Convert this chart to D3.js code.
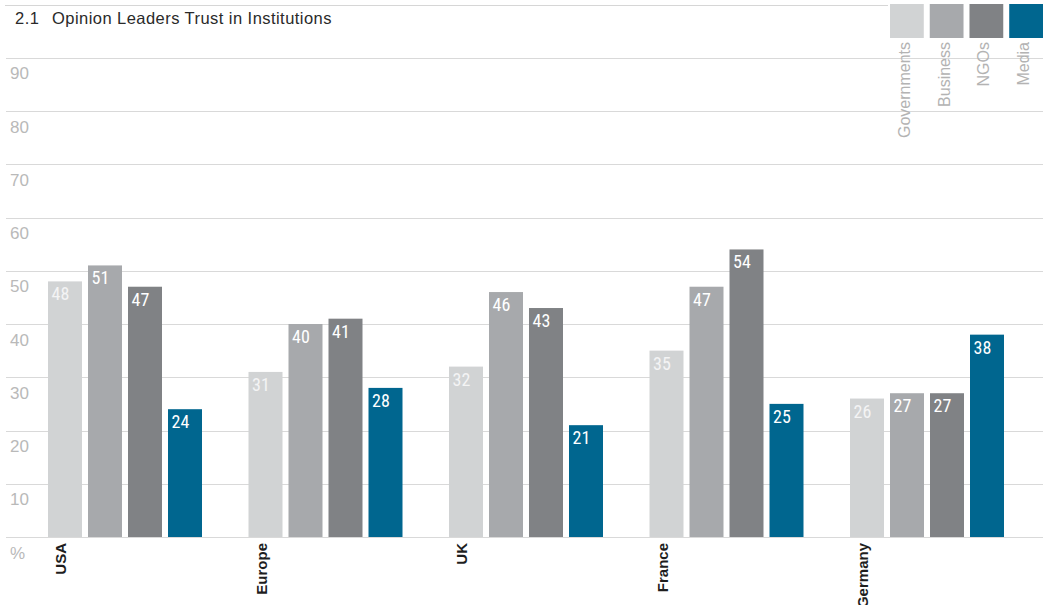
<!DOCTYPE html>
<html>
<head>
<meta charset="utf-8">
<script src="https://cdn.jsdelivr.net/npm/d3@7"></script>
<style>
  html, body { margin: 0; padding: 0; background: #fff; }
  svg { display: block; }
</style>
</head>
<body>
<svg id="chart" width="1043" height="605"></svg>
<script>
const titleNumber = "2.1";
const titleText = "Opinion Leaders Trust in Institutions";
const countries = ["USA", "Europe", "UK", "France", "Germany"];
const seriesNames = ["Governments", "Business", "NGOs", "Media"];
const governments = [48, 31, 32, 35, 26];
const business = [51, 40, 46, 47, 27];
const ngos = [47, 41, 43, 54, 27];
const media = [24, 28, 21, 25, 38];
const yTicks = [10, 20, 30, 40, 50, 60, 70, 80, 90];
const zeroLabel = "%";
const colors = ["#d1d3d4", "#a7a9ac", "#808285", "#00668f"];

const seriesValues = [governments, business, ngos, media];
const W = 1043, H = 605;
const svg = d3.select("#chart");

const y = d3.scaleLinear().domain([0, 100]).range([537, 4.5]);
const x0 = d3.scaleBand().domain(countries).range([48, 48 + 5 * 200.5]).paddingInner(0).paddingOuter(0);
const x1 = d3.scaleBand().domain(seriesNames).range([0, 154]).paddingInner(0.15).paddingOuter(0);
const color = d3.scaleOrdinal().domain(seriesNames).range(colors);

// top rule
svg.append("line")
  .attr("x1", 5).attr("x2", 888)
  .attr("y1", Math.round(y(100)) + 0.5).attr("y2", Math.round(y(100)) + 0.5)
  .attr("stroke", "#d6d6d6").attr("stroke-width", 1.2);

// gridlines and y labels
const gridVals = [0].concat(yTicks);
const g = svg.append("g");
g.selectAll("line.grid").data(gridVals).enter().append("line")
  .attr("class", "grid")
  .attr("x1", 6).attr("x2", W)
  .attr("y1", d => Math.round(y(d)) + 0.5).attr("y2", d => Math.round(y(d)) + 0.5)
  .attr("stroke", "#d9d9d9").attr("stroke-width", 1.2);

g.selectAll("text.ytick").data(gridVals).enter().append("text")
  .attr("class", "ytick")
  .attr("x", 10)
  .attr("y", d => y(d) + 21.5)
  .attr("font-family", "'Liberation Sans', Arial, sans-serif")
  .attr("font-size", 17)
  .attr("fill", "#b9b9b9")
  .text(d => d === 0 ? zeroLabel : d);

// title
const t = svg.append("text")
  .attr("y", 24)
  .attr("font-family", "'Liberation Sans', Arial, sans-serif")
  .attr("font-size", 16.5)
  .attr("letter-spacing", 0.45)
  .attr("fill", "#2a2a2a");
t.append("tspan").attr("x", 15).text(titleNumber);
t.append("tspan").attr("x", 52).text(titleText);

// bars
const groups = svg.selectAll("g.country").data(countries).enter().append("g")
  .attr("class", "country")
  .attr("transform", d => `translate(${x0(d)},0)`);

groups.selectAll("rect").data((c, ci) => seriesNames.map((s, si) => ({ s, v: seriesValues[si][ci] })))
  .enter().append("rect")
  .attr("x", d => x1(d.s))
  .attr("width", x1.bandwidth())
  .attr("y", d => y(d.v))
  .attr("height", d => y(0) - y(d.v))
  .attr("fill", d => color(d.s));

groups.selectAll("text.val").data((c, ci) => seriesNames.map((s, si) => ({ s, v: seriesValues[si][ci] })))
  .enter().append("text")
  .attr("class", "val")
  .attr("x", d => x1(d.s) + 3.5)
  .attr("y", d => y(d.v) + 19)
  .attr("font-family", "'Liberation Sans Narrow', 'Roboto Condensed', Roboto, sans-serif")
  .attr("font-size", 18)
  .attr("fill", d => d.s === "Governments" ? "#f4f4f4" : "#ffffff")
  .text(d => d.v);

// category labels
groups.append("text")
  .attr("transform", `translate(18,543) rotate(-90)`)
  .attr("text-anchor", "end")
  .attr("font-family", "'Liberation Sans', Arial, sans-serif")
  .attr("font-size", 15)
  .attr("font-weight", "bold")
  .attr("fill", "#1e1e1e")
  .text(d => d);

// legend
const legendX = d3.scaleBand().domain(seriesNames).range([890, 1043]).paddingInner(0.15).paddingOuter(0);
const lg = svg.selectAll("g.legend").data(seriesNames).enter().append("g")
  .attr("class", "legend")
  .attr("transform", d => `translate(${legendX(d)},0)`);
lg.append("rect")
  .attr("x", 0).attr("y", 4)
  .attr("width", legendX.bandwidth()).attr("height", 34)
  .attr("fill", d => color(d));
lg.append("text")
  .attr("transform", "translate(20,42) rotate(-90)")
  .attr("text-anchor", "end")
  .attr("font-family", "'Liberation Sans', Arial, sans-serif")
  .attr("font-size", 16)
  .attr("fill", "#b3b3b3")
  .text(d => d);
</script>
</body>
</html>
